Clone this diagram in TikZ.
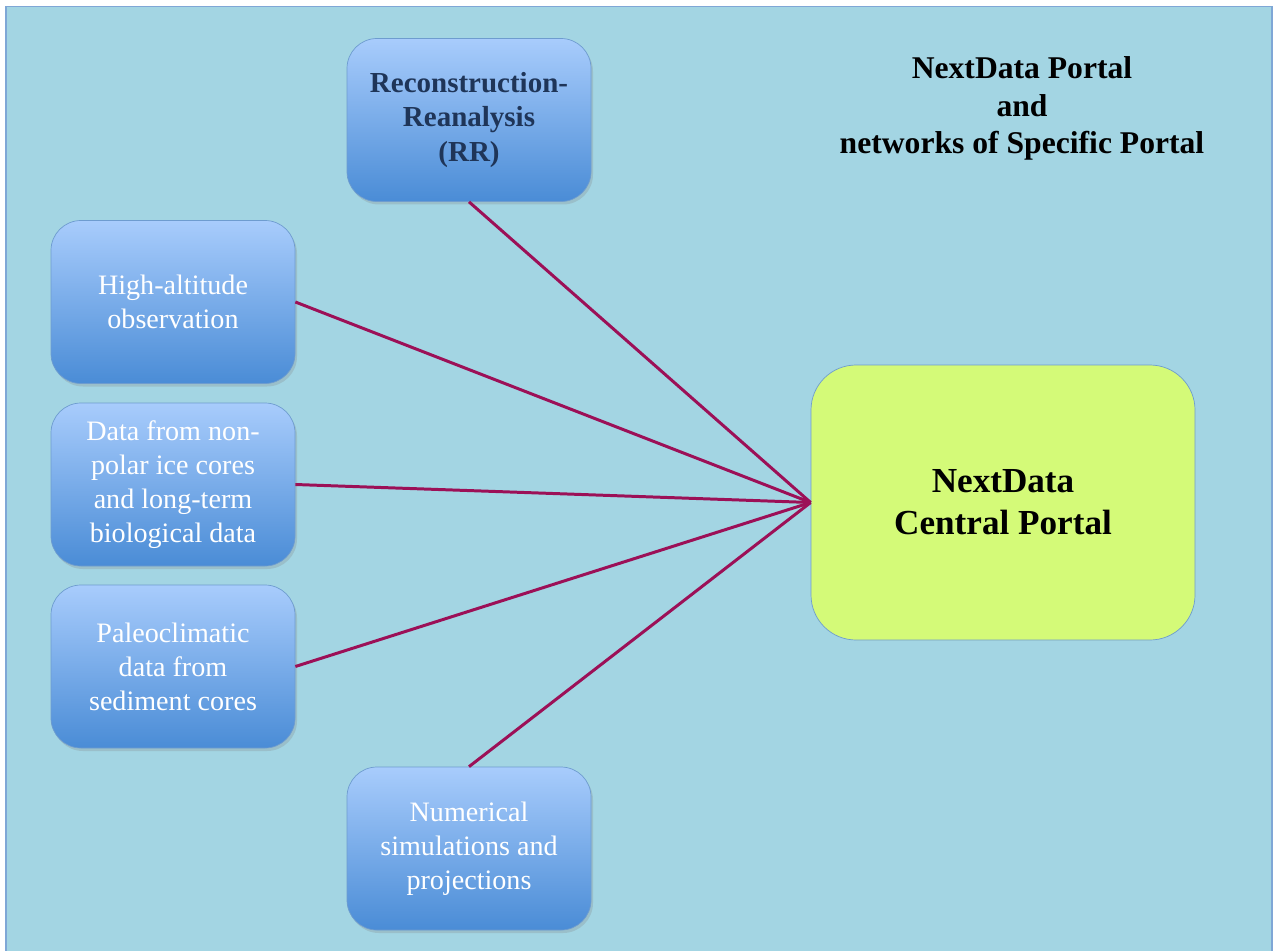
\documentclass[tikz,border=0pt]{standalone}
\usepackage{fontspec}
\setmainfont{Liberation Serif}
\usepackage{tikz}
\usetikzlibrary{positioning}
\usetikzlibrary{shadows}
\definecolor{bgblue}{HTML}{A3D5E3}
\definecolor{bgedge}{HTML}{7FA7D6}
\definecolor{boxtop}{HTML}{A8CCFC}
\definecolor{boxbot}{HTML}{4A8CD6}
\definecolor{boxedge}{HTML}{6E9CCF}
\definecolor{portal}{HTML}{D4FA78}
\definecolor{link}{HTML}{9C1057}
\definecolor{navy}{HTML}{1F3558}
\tikzset{source/.style={rectangle,rounded corners=0.6cm,draw=boxedge,top color=boxtop,bottom color=boxbot,
  minimum width=4.88cm,minimum height=3.26cm,align=center,text=white,
  font=\fontsize{16}{19.3}\selectfont,drop shadow={opacity=0.25,shadow xshift=0.04cm,shadow yshift=-0.06cm}}}
\tikzset{hub/.style={rectangle,rounded corners=0.9cm,draw=boxedge,fill=portal,
  minimum width=7.68cm,minimum height=5.5cm,align=center,font=\fontsize{20}{24}\selectfont\bfseries}}
\tikzset{feed/.style={draw=link,line width=1.7pt}}

\begin{document}
\begin{tikzpicture}
\useasboundingbox (0,0) rectangle (25.5,-19);
\draw[fill=bgblue,draw=bgedge,line width=0.8pt] (0.12,-0.13) rectangle (25.44,-19.3);

\node[hub] (central) at (20.06,-10.05) {NextData\\Central Portal};

\node[source,text=navy,font=\fontsize{16.5}{19.5}\selectfont\bfseries] (rr) at (9.38,-2.40) {Reconstruction-\\Reanalysis\\(RR)};
\node[source] (high) at (3.46,-6.04) {High-altitude\\observation};
\node[source] (ice) at (3.46,-9.69) {Data from non-\\polar ice cores\\and long-term\\biological data};
\node[source] (paleo) at (3.46,-13.33) {Paleoclimatic\\data from\\sediment cores};
\node[source] (num) at (9.38,-16.97) {Numerical\\simulations and\\projections};

\node[align=center,font=\fontsize{18}{21.5}\selectfont\bfseries] (title) at (20.44,-2.17) {NextData Portal\\and\\networks of Specific Portal};

 \draw[feed] (rr.south) -- (central.west);
 \draw[feed] (high.east) -- (central.west);
 \draw[feed] (ice.east) -- (central.west);
 \draw[feed] (paleo.east) -- (central.west);
 \draw[feed] (num.north) -- (central.west);
\end{tikzpicture}
\end{document}
